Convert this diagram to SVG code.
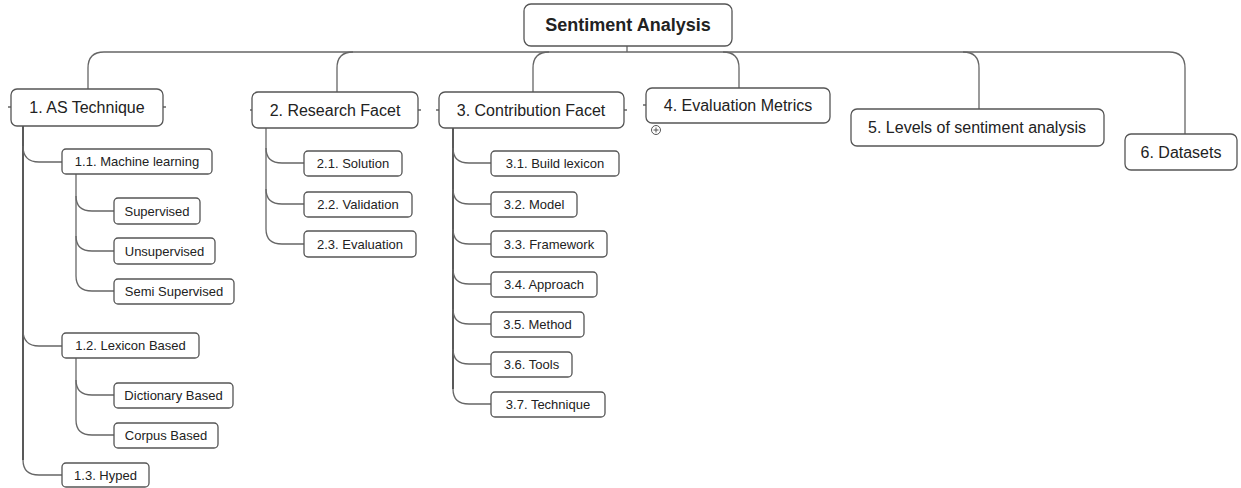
<svg xmlns="http://www.w3.org/2000/svg" width="1241" height="488" viewBox="0 0 1241 488">
<style>
.box{fill:#fff;stroke:#555;stroke-width:1.3}
.t{font-family:"Liberation Sans",Arial,sans-serif;fill:#222;text-anchor:middle}
.root{font-size:18px;font-weight:bold}
.l1{font-size:16px}
.l2{font-size:13px}
.c{fill:none;stroke:#666;stroke-width:1.3}
.cd{fill:none;stroke:#222;stroke-width:1.5}
</style>
<rect width="1241" height="488" fill="#fff"/>
<g id="connectors">
<path class="c" d="M627,46 V52"/>
<path class="c" d="M88,89 V68 Q88,52 104,52 H1169 Q1185,52 1185,68 V134"/>
<path class="c" d="M353,52 Q337,52 337,68 V92"/>
<path class="c" d="M549,52 Q533,52 533,68 V92"/>
<path class="c" d="M723,52 Q739,52 739,68 V88"/>
<path class="c" d="M963,52 Q979,52 979,68 V109"/>
<path class="c" d="M8,107 H11 M163,107 H166 M250,110 H252 M418,110 H421 M436,110 H439 M624,110 H627 M643,105 H646"/>
<circle cx="656" cy="130" r="4.5" fill="#fff" stroke="#555" stroke-width="1"/>
<path d="M653.5,130 H658.5 M656,127.5 V132.5" stroke="#555" stroke-width="1"/>
<!-- node 1 children -->
<path class="cd" d="M23,126 V460"/>
<path class="c" d="M23,146 Q23,162 39,162 H62"/>
<path class="c" d="M23,330 Q23,346 39,346 H62"/>
<path class="c" d="M23,460 Q23,475 39,475 H62"/>
<path class="c" d="M76,174 V276"/>
<path class="c" d="M76,196 Q76,211 92,211 H114"/>
<path class="c" d="M76,236 Q76,251 92,251 H114"/>
<path class="c" d="M76,276 Q76,291 92,291 H114"/>
<path class="c" d="M76,358 V420"/>
<path class="c" d="M76,380 Q76,395 92,395 H114"/>
<path class="c" d="M76,420 Q76,435 92,435 H114"/>
<!-- node 2 children -->
<path class="c" d="M266,128 V229"/>
<path class="c" d="M266,148 Q266,163 282,163 H304"/>
<path class="c" d="M266,189 Q266,204 282,204 H304"/>
<path class="c" d="M266,229 Q266,244 282,244 H304"/>
<!-- node 3 children -->
<path class="cd" d="M453,128 V389"/>
<path class="c" d="M453,148 Q453,163 469,163 H491"/>
<path class="c" d="M453,189 Q453,204 469,204 H491"/>
<path class="c" d="M453,229 Q453,244 469,244 H491"/>
<path class="c" d="M453,269 Q453,284 469,284 H491"/>
<path class="c" d="M453,309 Q453,324 469,324 H491"/>
<path class="c" d="M453,349 Q453,364 469,364 H491"/>
<path class="c" d="M453,389 Q453,404 469,404 H491"/>
</g>
<g id="root"><rect class="box" x="524" y="4" width="208" height="42" rx="7"/><text class="t root" x="628" y="31">Sentiment Analysis</text></g>
<g id="n1"><rect class="box" x="11" y="89" width="152" height="37" rx="6"/><text class="t l1" x="87" y="113">1. AS Technique</text></g>
<g id="n2"><rect class="box" x="252" y="92" width="166" height="36" rx="6"/><text class="t l1" x="335" y="116">2. Research Facet</text></g>
<g id="n3"><rect class="box" x="439" y="92" width="185" height="36" rx="6"/><text class="t l1" x="531" y="116">3. Contribution Facet</text></g>
<g id="n4"><rect class="box" x="646" y="88" width="184" height="35" rx="6"/><text class="t l1" x="738" y="111">4. Evaluation Metrics</text></g>
<g id="n5"><rect class="box" x="851" y="109" width="253" height="37" rx="6"/><text class="t l1" x="977" y="133">5. Levels of sentiment analysis</text></g>
<g id="n6"><rect class="box" x="1125" y="134" width="112" height="36" rx="6"/><text class="t l1" x="1181" y="158">6. Datasets</text></g>
<g id="n1_1"><rect class="box" x="62" y="149" width="150" height="25" rx="4"/><text class="t l2" x="137" y="166">1.1. Machine learning</text></g>
<g id="n1_1_1"><rect class="box" x="114" y="198" width="86" height="26" rx="4"/><text class="t l2" x="157" y="215.5">Supervised</text></g>
<g id="n1_1_2"><rect class="box" x="114" y="238" width="101" height="26" rx="4"/><text class="t l2" x="164.5" y="255.5">Unsupervised</text></g>
<g id="n1_1_3"><rect class="box" x="114" y="279" width="120" height="25" rx="4"/><text class="t l2" x="174" y="296">Semi Supervised</text></g>
<g id="n1_2"><rect class="box" x="62" y="333" width="137" height="25" rx="4"/><text class="t l2" x="130.5" y="350">1.2. Lexicon Based</text></g>
<g id="n1_2_1"><rect class="box" x="114" y="383" width="119" height="25" rx="4"/><text class="t l2" x="173.5" y="400">Dictionary Based</text></g>
<g id="n1_2_2"><rect class="box" x="114" y="423" width="104" height="25" rx="4"/><text class="t l2" x="166" y="440">Corpus Based</text></g>
<g id="n1_3"><rect class="box" x="62" y="463" width="87" height="24" rx="4"/><text class="t l2" x="105.5" y="479.5">1.3. Hyped</text></g>
<g id="n2_1"><rect class="box" x="304" y="151" width="98" height="25" rx="4"/><text class="t l2" x="353" y="168">2.1. Solution</text></g>
<g id="n2_2"><rect class="box" x="304" y="192" width="108" height="25" rx="4"/><text class="t l2" x="358" y="209">2.2. Validation</text></g>
<g id="n2_3"><rect class="box" x="304" y="231" width="112" height="26" rx="4"/><text class="t l2" x="360" y="248.5">2.3. Evaluation</text></g>
<g id="n3_1"><rect class="box" x="491" y="151" width="128" height="25" rx="4"/><text class="t l2" x="555" y="168">3.1. Build lexicon</text></g>
<g id="n3_2"><rect class="box" x="491" y="192" width="86" height="25" rx="4"/><text class="t l2" x="534" y="209">3.2. Model</text></g>
<g id="n3_3"><rect class="box" x="491" y="231" width="116" height="26" rx="4"/><text class="t l2" x="549" y="248.5">3.3. Framework</text></g>
<g id="n3_4"><rect class="box" x="491" y="272" width="106" height="25" rx="4"/><text class="t l2" x="544" y="289">3.4. Approach</text></g>
<g id="n3_5"><rect class="box" x="491" y="312" width="93" height="25" rx="4"/><text class="t l2" x="537.5" y="329">3.5. Method</text></g>
<g id="n3_6"><rect class="box" x="491" y="352" width="81" height="25" rx="4"/><text class="t l2" x="531.5" y="369">3.6. Tools</text></g>
<g id="n3_7"><rect class="box" x="491" y="392" width="114" height="25" rx="4"/><text class="t l2" x="548" y="409">3.7. Technique</text></g>
</svg>
